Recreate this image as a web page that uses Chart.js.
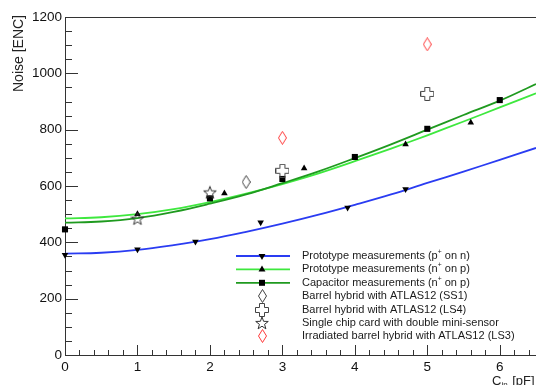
<!DOCTYPE html>
<html>
<head>
<meta charset="utf-8">
<script src="https://cdn.jsdelivr.net/npm/chart.js@4.4.0/dist/chart.umd.min.js"></script>
<style>
html, body { margin: 0; padding: 0; background: #fff; }
#wrap { width: 536px; height: 385px; position: relative; }
</style>
</head>
<body>
<div id="wrap"><canvas id="chart"></canvas></div>
<script>
const curveX = [0, 0.5, 1, 1.5, 2, 2.5, 3, 3.5, 4, 4.5, 5, 5.5, 6, 6.5];
const fitPn  = [360, 363, 373, 390, 411, 437, 466, 498, 533, 570, 611, 651, 693, 735];
const fitNp  = [485, 489, 500, 518, 543, 573, 607, 645, 688, 733, 780, 829, 879, 929];
const fitCap = [470, 474, 486, 508, 537, 570, 610, 652, 699, 748, 800, 852, 903, 962];

// Measurements
const pnX  = [0, 1, 1.8, 2.7, 3.9, 4.7];
const pnY  = [355, 375, 402, 471, 523, 589];
const npX  = [1, 2.2, 3.3, 4.7, 5.6];
const npY  = [500, 574, 663, 748, 825];
const capX = [0, 2, 3, 4, 5, 6];
const capY = [446, 556, 625, 703, 803, 905];
const ss1X = [2.5];
const ss1Y = [614];
const ls4X = [3, 5];
const ls4Y = [654, 927];
const starX = [1, 2];
const starY = [484, 577];
const ls3X = [3, 5];
const ls3Y = [771, 1103];

const xTicks = [0, 1, 2, 3, 4, 5, 6];
const yTicks = [0, 200, 400, 600, 800, 1000, 1200];

const legendLabels = [
    'Prototype measurements (p⁺ on n)',
    'Prototype measurements (n⁺ on p)',
    'Capacitor measurements (n⁺ on p)',
    'Barrel hybrid with ATLAS12 (SS1)',
    'Barrel hybrid with ATLAS12 (LS4)',
    'Single chip card with double mini-sensor',
    'Irradiated barrel hybrid with ATLAS12 (LS3)'
];

const BLUE = '#2a3cf2';
const LGREEN = '#3ee83e';
const DGREEN = '#1f9a1f';
const FONT = "'Liberation Sans', Arial, sans-serif";

function pts(xs, ys) {
    return xs.map((x, i) => ({ x: x, y: ys[i] }));
}

// Hollow marker pictures (ROOT open diamond, open cross, open star)
function makeMarker(w, h, color, pathFn) {
    let c = document.createElement('canvas');
    c.width = w;
    c.height = h;
    let g = c.getContext('2d');
    g.strokeStyle = color;
    g.lineWidth = 1;
    g.beginPath();
    pathFn(g);
    g.closePath();
    g.stroke();
    return c;
}

let diamondBlack = makeMarker(9, 14, '#444', g => {
    g.moveTo(4.5, 0.5); g.lineTo(8.5, 7); g.lineTo(4.5, 13.5); g.lineTo(0.5, 7);
});
let diamondRed = makeMarker(9, 14, '#ff3b3b', g => {
    g.moveTo(4.5, 0.5); g.lineTo(8.5, 7); g.lineTo(4.5, 13.5); g.lineTo(0.5, 7);
});
let crossOpen = makeMarker(14, 14, '#444', g => {
    let a = 4.5, b = 9.5;
    g.moveTo(a, 0.5); g.lineTo(b, 0.5); g.lineTo(b, a); g.lineTo(13.5, a);
    g.lineTo(13.5, b); g.lineTo(b, b); g.lineTo(b, 13.5); g.lineTo(a, 13.5);
    g.lineTo(a, b); g.lineTo(0.5, b); g.lineTo(0.5, a); g.lineTo(a, a);
});
let starOpen = makeMarker(14, 14, '#333', g => {
    let cx = 7, cy = 7.5, ro = 6.6, ri = 2.7;
    for (let k = 0; k < 10; k++) {
        let r = k % 2 == 0 ? ro : ri;
        let ang = -Math.PI / 2 + k * Math.PI / 5;
        let px = cx + r * Math.cos(ang), py = cy + r * Math.sin(ang);
        if (k == 0) g.moveTo(px, py); else g.lineTo(px, py);
    }
});

function curve(data, color) {
    return {
        data: data,
        showLine: true,
        borderColor: color,
        borderWidth: 1.8,
        pointRadius: 0,
        tension: 0.4,
        clip: false
    };
}

function markers(data, style, radius, color, rotation) {
    return {
        data: data,
        showLine: false,
        pointStyle: style,
        pointRadius: radius,
        pointRotation: rotation || 0,
        pointBackgroundColor: color,
        pointBorderColor: color,
        pointBorderWidth: 0,
        clip: false
    };
}

// Legend rows: [line color, marker style, rotation, marker color]
const legendStyle = [
    [BLUE, 'triangle', 180, '#000'],
    [LGREEN, 'triangle', 0, '#000'],
    [DGREEN, 'rect', 0, '#000'],
    [null, diamondBlack],
    [null, crossOpen],
    [null, starOpen],
    [null, diamondRed]
];

function drawMarker(ctx, style, rot, color, x, y, r) {
    if (style instanceof HTMLCanvasElement) {
        ctx.drawImage(style, Math.round(x - style.width / 2), Math.round(y - style.height / 2));
        return;
    }
    ctx.save();
    ctx.fillStyle = color;
    ctx.translate(x, y);
    ctx.rotate(rot * Math.PI / 180);
    ctx.beginPath();
    if (style == 'triangle') {
        ctx.moveTo(0, -r);
        ctx.lineTo(r * 0.866, r * 0.5);
        ctx.lineTo(-r * 0.866, r * 0.5);
    } else {
        ctx.rect(-r * 0.75, -r * 0.75, r * 1.5, r * 1.5);
    }
    ctx.closePath();
    ctx.fill();
    ctx.restore();
}

// Text with ⁺ drawn as a small raised plus
function drawSup(ctx, text, x, y, size) {
    let parts = text.split('⁺');
    for (let i = 0; i < parts.length; i++) {
        ctx.font = size + 'px ' + FONT;
        ctx.fillText(parts[i], x, y);
        x += ctx.measureText(parts[i]).width;
        if (i < parts.length - 1) {
            ctx.font = (size * 0.62) + 'px ' + FONT;
            ctx.fillText('+', x, y - size * 0.38);
            x += ctx.measureText('+').width;
        }
    }
}

const frame = {
    id: 'frame',
    beforeDatasetsDraw(chart) {
        const ctx = chart.ctx;
        const xs = chart.scales.x, ys = chart.scales.y;
        const a = chart.chartArea;
        ctx.save();
        ctx.strokeStyle = '#333';
        ctx.lineWidth = 1;
        ctx.beginPath();
        // top frame line
        ctx.moveTo(a.left, a.top + 0.5);
        ctx.lineTo(chart.width, a.top + 0.5);
        // y ticks, inside
        for (let v = 0; v <= 1200; v += 50) {
            let py = Math.round(ys.getPixelForValue(v)) + 0.5;
            let len = v % 200 == 0 ? 13 : 7;
            ctx.moveTo(a.left, py);
            ctx.lineTo(a.left + len, py);
        }
        // x ticks, inside
        for (let k = 0; k <= 32; k++) {
            let v = k * 0.2;
            let px = Math.round(xs.getPixelForValue(v)) + 0.5;
            let len = k % 5 == 0 ? 10 : 5;
            ctx.moveTo(px, a.bottom);
            ctx.lineTo(px, a.bottom - len);
        }
        ctx.stroke();
        ctx.restore();
    },
    afterDraw(chart) {
        const ctx = chart.ctx;
        ctx.save();
        // legend
        let top = 256, step = 13.4;
        ctx.textBaseline = 'middle';
        legendStyle.forEach((s, i) => {
            let y = top + i * step;
            if (s[0]) {
                ctx.strokeStyle = s[0];
                ctx.lineWidth = 1.8;
                ctx.beginPath();
                ctx.moveTo(236, y);
                ctx.lineTo(290, y);
                ctx.stroke();
            }
            drawMarker(ctx, s[1], s[2] || 0, s[3], 262, y, 4);
            ctx.fillStyle = '#1a1a1a';
            ctx.textAlign = 'left';
            drawSup(ctx, legendLabels[i], 302, y, 11);
        });
        // y title
        ctx.fillStyle = '#222';
        ctx.font = '14px ' + FONT;
        ctx.save();
        ctx.translate(19, 15);
        ctx.rotate(-Math.PI / 2);
        ctx.textAlign = 'right';
        ctx.textBaseline = 'middle';
        ctx.fillText('Noise [ENC]', 0, 0);
        ctx.restore();
        // x title C_in [pF]
        ctx.textBaseline = 'alphabetic';
        ctx.textAlign = 'left';
        let x = 492, y = 385;
        ctx.font = '13px ' + FONT;
        ctx.fillText('C', x, y);
        x += ctx.measureText('C').width;
        ctx.font = '8px ' + FONT;
        ctx.fillText('in', x, y + 2);
        x += ctx.measureText('in').width + 1;
        ctx.font = '13px ' + FONT;
        ctx.fillText(' [pF]', x, y);
        ctx.restore();
    }
};

new Chart(document.getElementById('chart'), {
    type: 'scatter',
    data: {
        datasets: [
            markers(pts(ls3X, ls3Y), diamondRed, 6),
            markers(pts(starX, starY), starOpen, 6),
            markers(pts(ls4X, ls4Y), crossOpen, 6),
            markers(pts(ss1X, ss1Y), diamondBlack, 6),
            markers(pts(capX, capY), 'rect', 4.3, '#000'),
            markers(pts(npX, npY), 'triangle', 3.8, '#000'),
            markers(pts(pnX, pnY), 'triangle', 3.8, '#000', 180),
            curve(pts(curveX, fitCap), DGREEN),
            curve(pts(curveX, fitNp), LGREEN),
            curve(pts(curveX, fitPn), BLUE)
        ]
    },
    options: {
        responsive: true,
        maintainAspectRatio: false,
        animation: false,
        events: [],
        layout: { autoPadding: false, padding: { top: 17, right: 0, left: 0, bottom: 0 } },
        plugins: {
            legend: { display: false },
            tooltip: { enabled: false }
        },
        scales: {
            x: {
                type: 'linear',
                min: 0,
                max: 6.5,
                afterBuildTicks: s => { s.ticks = xTicks.map(v => ({ value: v })); },
                afterFit: s => { s.height = 30; s.paddingRight = 0; s.paddingLeft = 0; },
                grid: { drawOnChartArea: false, drawTicks: false },
                border: { display: true, color: '#333', width: 1 },
                ticks: { color: '#111', padding: 4, font: { family: FONT, size: 13.5 },
                         callback: v => String(v) }
            },
            y: {
                type: 'linear',
                min: 0,
                max: 1200,
                afterBuildTicks: s => { s.ticks = yTicks.map(v => ({ value: v })); },
                afterFit: s => { s.width = 65; s.paddingTop = 0; s.paddingBottom = 0; },
                grid: { drawOnChartArea: false, drawTicks: false },
                border: { display: true, color: '#333', width: 1 },
                ticks: { color: '#111', padding: 3, font: { family: FONT, size: 13.5 },
                         callback: v => String(v) }
            }
        }
    },
    plugins: [frame]
});
</script>
</body>
</html>
